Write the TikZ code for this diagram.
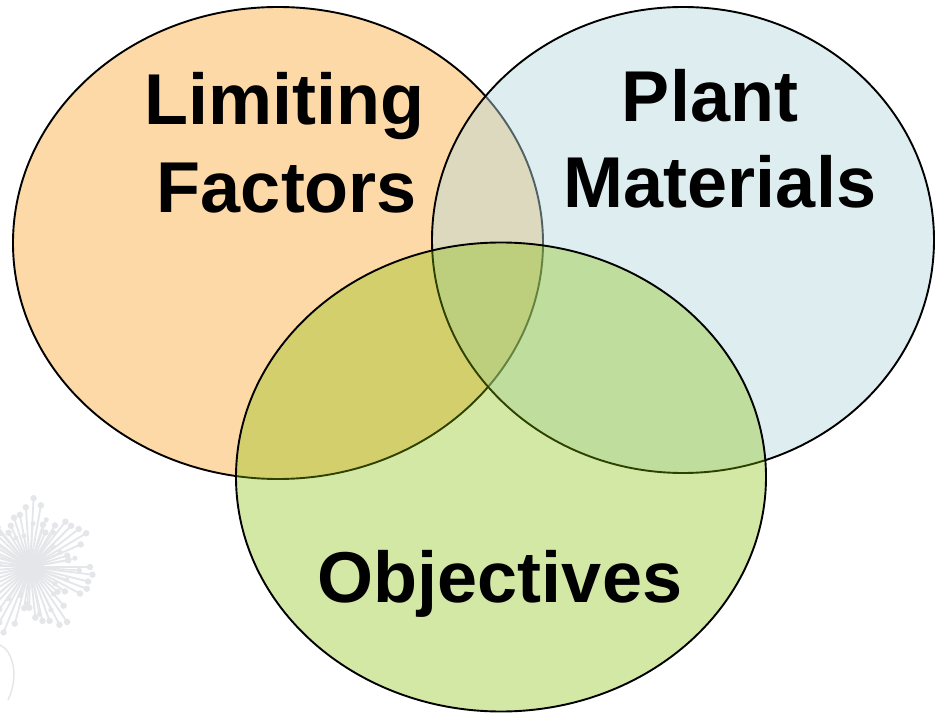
\documentclass[tikz,border=0pt]{standalone}
\usepackage{fontspec}
\setmainfont{Liberation Sans}
\usetikzlibrary{shapes.geometric}
\definecolor{orangefill}{RGB}{253,217,167}
\definecolor{bluefill}{RGB}{182,218,222}
\definecolor{greenfill}{RGB}{134,190,0}
\definecolor{dandgray}{RGB}{228,230,234}
\tikzset{
  venn/.style={ellipse, draw=black, line width=1.9pt, inner sep=0pt, outer sep=0pt},
  lbl/.style={font=\fontsize{72}{86}\selectfont\bfseries, anchor=base, inner sep=0pt, text=black},
  seedline/.style={draw=dandgray, line width=1.8pt},
  seed/.style={fill=dandgray}
}
\begin{document}
\begin{tikzpicture}[x=1pt,y=-1pt]
\useasboundingbox (0,0) rectangle (935,714);
\fill[white] (0,0) rectangle (935,714);
% faint dandelion decoration
\coordinate (dc) at (30,567);
\foreach \a in {0,7,...,355} {
  \pgfmathsetmacro{\r}{54+12*sin(7*\a)+6*cos(13*\a)}
  \draw[seedline] (dc) -- ++(\a:\r);
  \fill[seed] (dc) ++(\a:\r) circle (3.2pt);
}
\foreach \a in {4,19,...,364} {
  \pgfmathsetmacro{\r}{40+10*cos(5*\a)}
  \draw[seedline, line width=1.2pt] (dc) -- ++(\a:\r);
  \fill[seed] (dc) ++(\a:\r) circle (2.5pt);
}
\fill[dandgray] (dc) circle (14pt);
\draw[dandgray, line width=1.4pt] (0,645) .. controls (12,650) and (20,675) .. (8,700);
% Venn ellipses
\node[venn, fill=orangefill, minimum width=530pt, minimum height=472pt] (lf) at (278,243) {};
\node[venn, fill=bluefill, fill opacity=0.45, minimum width=502pt, minimum height=466pt] (pm) at (683,240) {};
\node[venn, fill=greenfill, fill opacity=0.35, minimum width=530pt, minimum height=469pt] (ob) at (501,477) {};
% labels
\node[lbl] (t1) at (284,125) {Limiting};
\node[lbl] (t2) at (287,213) {Factors};
\node[lbl] (t3) at (710,122) {Plant};
\node[lbl] (t4) at (720,208) {Materials};
\node[lbl] (t5) at (500,602) {Objectives};
\end{tikzpicture}
\end{document}
